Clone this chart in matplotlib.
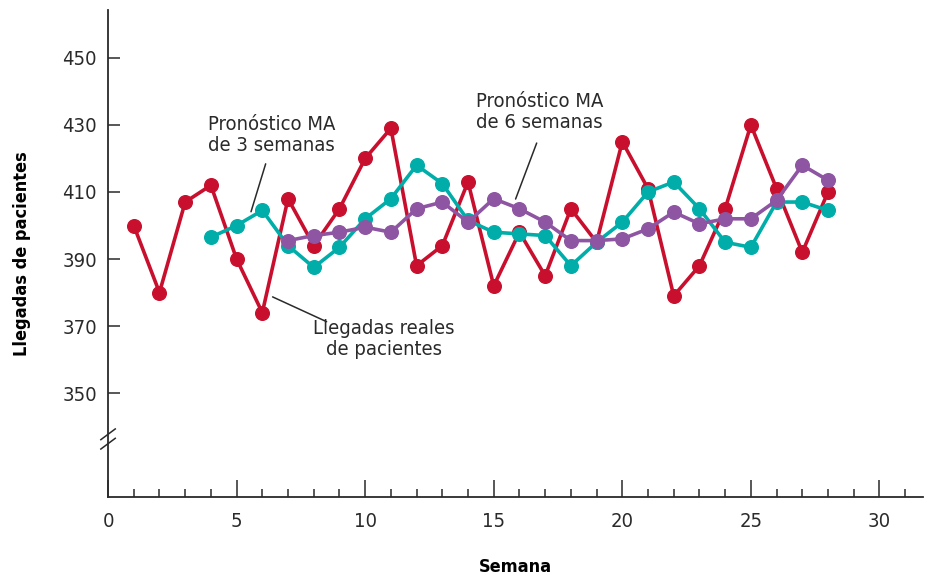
import matplotlib.pyplot as plt
from matplotlib.ticker import MultipleLocator

# --- DATOS ---
semanas = list(range(1, 29))
llegadas = [400, 380, 407, 412, 390, 374, 408, 394, 405, 420, 429, 388, 394, 413,
            382, 398, 385, 405, 395, 425, 411, 379, 388, 405, 430, 411, 392, 410]

semanas_ma3 = list(range(4, 29))
ma3 = [396.5, 400, 404.5, 394, 387.5, 393.5, 402, 408, 418, 412.5, 401.5, 398, 397.5,
       397, 388, 395, 401, 410, 413, 405, 395, 393.5, 407, 407, 404.5]

semanas_ma6 = list(range(7, 29))
ma6 = [395.5, 397, 398, 399.5, 398, 405, 407, 401, 408, 405, 401, 395.5, 395.5,
       396, 399, 404, 400.5, 402, 402, 407.5, 418, 413.5]

rojo = "#C8102E"
verde = "#00ADA9"
morado = "#8E55A2"
gris = "#2A2A2A"

plt.rcParams['font.family'] = ['DejaVu Sans']
plt.rcParams['font.stretch'] = 'condensed'
plt.rcParams['text.color'] = gris

fig = plt.figure(figsize=(9.25, 5.75), dpi=100)
ax = fig.add_axes([0.1168, 0.1357, 0.8812, 0.8469])

estilo = dict(lw=2.6, marker='o', markersize=9.8, solid_joinstyle='round')
ax.plot(semanas, llegadas, color=rojo, zorder=3, **estilo)
ax.plot(semanas_ma3, ma3, color=verde, zorder=4, **estilo)
ax.plot(semanas_ma6, ma6, color=morado, zorder=5, **estilo)

ax.set_xlim(0, 31.7)
ax.set_ylim(319, 464.3)

ax.xaxis.set_major_locator(MultipleLocator(5))
ax.xaxis.set_minor_locator(MultipleLocator(1))
ax.set_yticks([350, 370, 390, 410, 430, 450])

ax.tick_params(axis='x', which='major', direction='in', length=12.5, width=1.1,
               pad=11, labelsize=14.5, colors=gris)
ax.tick_params(axis='x', which='minor', direction='in', length=6, width=1.1, colors=gris)
ax.tick_params(axis='y', which='major', direction='in', length=8.5, width=1.1,
               pad=8, labelsize=14.5, colors=gris)

for s in ['top', 'right']:
    ax.spines[s].set_visible(False)
for s in ['left', 'bottom']:
    ax.spines[s].set_color(gris)
    ax.spines[s].set_linewidth(1.3)

# marcas de corte en el eje y
for dy in (-1.4, 1.4):
    ax.plot([-0.28, 0.28], [336.3 + dy - 1.6, 336.3 + dy + 1.6], color=gris,
            lw=1.1, clip_on=False, zorder=6)

ax.set_xlabel('Semana', fontsize=13, fontweight='bold')
ax.set_ylabel('Llegadas de pacientes', fontsize=13, fontweight='bold')
ax.xaxis.set_label_coords(0.5, -0.125)
ax.yaxis.set_label_coords(-0.094, 0.5)

# etiquetas con lineas guia
linea = dict(arrowstyle='-', color=gris, lw=1.1, shrinkA=0, shrinkB=0)
texto = dict(fontsize=14.5, ha='center', va='center', multialignment='center',
             linespacing=1.15)
ax.text(6.37, 427, 'Pronóstico MA\nde 3 semanas', **texto)
ax.annotate('', xy=(5.56, 404.1), xytext=(6.13, 418.4), arrowprops=linea)

ax.text(16.79, 433.9, 'Pronóstico MA\nde 6 semanas', **texto)
ax.annotate('', xy=(15.85, 407.9), xytext=(16.67, 424.6), arrowprops=linea)

ax.text(10.73, 366.1, 'Llegadas reales\nde pacientes', **texto)
ax.annotate('', xy=(6.40, 378.7), xytext=(8.50, 371.3), arrowprops=linea)

fig.savefig('out.png', dpi=100)
